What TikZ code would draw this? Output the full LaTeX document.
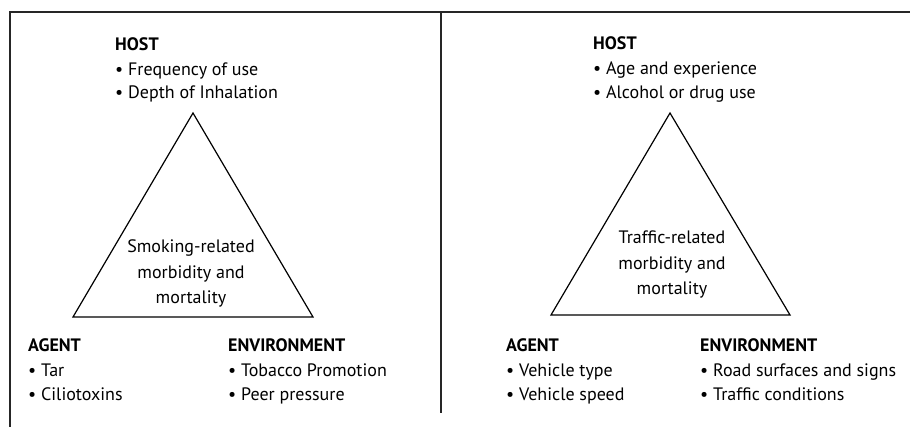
\documentclass[tikz,border=0pt]{standalone}
\usepackage{fontspec}
\setmainfont{PT Sans}
\begin{document}
\begin{tikzpicture}[x=1pt,y=-1pt,
  frame/.style={line width=2pt,draw=black!85},
  tri/.style={line width=1.2pt,draw=black},
  lbl/.style={anchor=base west,inner sep=0pt,font=\fontsize{18}{24}\selectfont},
  head/.style={lbl,font=\fontsize{18}{24}\selectfont\bfseries},
  ctr/.style={anchor=base,inner sep=0pt,align=center,font=\fontsize{18}{25.5}\selectfont}]
\useasboundingbox (0,0) rectangle (910,427);
% frame
\coordinate (tl) at (10,12);
\coordinate (tr) at (910,12);
\coordinate (bl) at (10,427);
\coordinate (mt) at (441,13);
\coordinate (mb) at (441,413);
\draw[frame] (tr) -- (tl) -- (bl);
\draw[frame] (mt) -- (mb);
% left triangle
\coordinate (LA) at (193,113);
\coordinate (LB) at (73,317);
\coordinate (LC) at (313,317);
\draw[tri,line join=miter] (LA) -- (LB) -- (LC) -- cycle;
\node[ctr] (lc) at (191,304) {Smoking-related\\morbidity and\\mortality};
\node[head] (lh) at (115,51) {HOST};
\node[lbl] (lh1) at (115,76) {• Frequency of use};
\node[lbl] (lh2) at (115,99) {• Depth of Inhalation};
\node[head] (la) at (28,352) {AGENT};
\node[lbl] (la1) at (28,377) {• Tar};
\node[lbl] (la2) at (28,400) {• Ciliotoxins};
\node[head] (le) at (228,352) {ENVIRONMENT};
\node[lbl] (le1) at (228,377) {• Tobacco Promotion};
\node[lbl] (le2) at (228,400) {• Peer pressure};
% right triangle
\coordinate (RA) at (670,113);
\coordinate (RB) at (551,315);
\coordinate (RC) at (790,315);
\draw[tri,line join=miter] (RA) -- (RB) -- (RC) -- cycle;
\node[ctr] (rc) at (672,295) {Traffic-related\\morbidity and\\mortality};
\node[head] (rh) at (593,50) {HOST};
\node[lbl] (rh1) at (593,75) {• Age and experience};
\node[lbl] (rh2) at (593,99) {• Alcohol or drug use};
\node[head] (ra) at (506,352) {AGENT};
\node[lbl] (ra1) at (506,377) {• Vehicle type};
\node[lbl] (ra2) at (506,400) {• Vehicle speed};
\node[head] (re) at (700,352) {ENVIRONMENT};
\node[lbl] (re1) at (700,377) {• Road surfaces and signs};
\node[lbl] (re2) at (700,400) {• Traffic conditions};
\end{tikzpicture}
\end{document}
